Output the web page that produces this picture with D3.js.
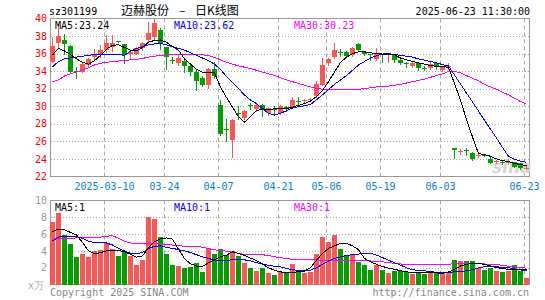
<!DOCTYPE html>
<html>
<head>
<meta charset="utf-8">
<script src="https://cdn.jsdelivr.net/npm/d3@7"></script>
<style>
  body { margin: 0; background: #fff; }
  svg { display: block; }
</style>
</head>
<body>
<svg id="chart" width="545" height="300"></svg>
<script>
// trading days shown in the chart
const dates = [
  '2025-02-25','2025-02-26','2025-02-27','2025-02-28','2025-03-03','2025-03-04','2025-03-05','2025-03-06','2025-03-07','2025-03-10',
  '2025-03-11','2025-03-12','2025-03-13','2025-03-14','2025-03-17','2025-03-18','2025-03-19','2025-03-20','2025-03-21','2025-03-24',
  '2025-03-25','2025-03-26','2025-03-27','2025-03-28','2025-03-31','2025-04-01','2025-04-02','2025-04-03','2025-04-07','2025-04-08',
  '2025-04-09','2025-04-10','2025-04-11','2025-04-14','2025-04-15','2025-04-16','2025-04-17','2025-04-18','2025-04-21','2025-04-22',
  '2025-04-23','2025-04-24','2025-04-25','2025-04-28','2025-04-29','2025-04-30','2025-05-06','2025-05-07','2025-05-08','2025-05-09',
  '2025-05-12','2025-05-13','2025-05-14','2025-05-15','2025-05-16','2025-05-19','2025-05-20','2025-05-21','2025-05-22','2025-05-23',
  '2025-05-26','2025-05-27','2025-05-28','2025-05-29','2025-05-30','2025-06-03','2025-06-04','2025-06-05','2025-06-06','2025-06-09',
  '2025-06-10','2025-06-11','2025-06-12','2025-06-13','2025-06-16','2025-06-17','2025-06-18','2025-06-19','2025-06-20','2025-06-23'
];

const open = [
  35.1,37.25,37.55,36.9,34.05,33.95,34.7,35.65,35.85,36.4,
  36.8,37.4,37.1,35.9,36.0,36.6,37.5,37.9,38.7,36.7,
  35.3,34.9,35.2,34.64,33.96,33.2,32.45,34.26,30.2,27.4,
  26.2,29.2,28.7,30.1,29.7,30.2,29.2,29.65,29.25,29.95,
  29.9,30.6,30.65,30.7,31.13,32.45,34.9,35.66,36.2,36.2,
  35.85,37.05,36.23,35.9,35.36,35.95,35.9,35.8,35.3,34.95,
  34.55,34.9,34.4,34.35,34.9,34.1,34.5,25.2,24.85,25.05,
  24.7,24.4,24.5,24.0,23.7,23.7,23.6,23.65,23.5,22.95
];
const high = [
  37.85,39.4,38.2,37.0,34.5,34.9,35.45,36.5,37.0,38.1,
  38.1,37.45,37.1,36.3,36.8,37.35,39.6,39.9,38.9,36.8,
  35.66,35.9,35.4,34.9,34.15,33.4,34.4,35.1,30.75,28.5,
  28.5,30.0,29.6,30.4,30.3,30.3,29.9,30.0,30.1,30.05,
  31.1,31.05,30.85,30.9,32.83,35.55,35.5,37.17,36.5,36.3,
  36.7,37.25,36.3,36.0,36.6,36.0,36.05,36.0,35.4,35.1,
  35.0,35.0,34.6,35.1,35.0,34.6,34.9,25.2,25.15,25.2,
  24.8,24.6,24.55,24.2,23.9,23.9,23.95,23.7,23.55,23.3
];
const low = [
  35.0,36.8,36.0,33.9,33.2,33.9,34.6,35.3,35.65,36.2,
  36.3,37.3,34.9,35.5,35.9,36.4,37.3,37.6,36.5,34.3,
  34.9,34.7,33.96,33.6,31.9,32.3,32.1,33.2,26.7,26.05,
  24.2,28.5,28.6,29.7,29.5,28.9,29.0,29.0,29.1,29.5,
  29.8,30.0,30.5,30.6,31.06,32.4,34.7,35.5,35.7,35.6,
  35.7,36.3,35.8,35.3,35.3,35.1,35.1,35.0,34.8,34.5,
  34.45,34.1,34.1,34.2,34.3,34.0,34.2,24.15,24.6,24.5,
  23.9,24.2,24.3,23.5,23.5,23.4,23.4,23.1,22.9,22.8
];
const close = [
  36.9,38.0,37.15,33.95,34.0,34.8,35.35,36.0,36.4,37.25,
  37.2,37.35,35.8,36.15,36.6,37.2,38.3,39.45,37.2,35.66,
  35.28,35.55,34.6,33.9,32.83,32.45,34.26,33.4,26.8,27.35,
  28.4,29.15,29.5,30.05,30.2,29.6,29.8,29.6,30.0,29.7,
  30.75,30.55,30.72,30.78,32.57,34.7,35.36,36.4,36.15,35.77,
  36.6,36.4,35.92,35.85,35.92,35.9,35.95,35.3,34.9,34.9,
  34.9,34.35,34.35,34.8,34.45,34.5,34.55,25.05,24.95,25.0,
  23.96,24.45,24.45,23.55,23.75,23.55,23.7,23.1,22.95,23.0
];

// volume, in 万
const volume = [
  7.4,8.46,5.94,4.86,3.22,3.66,3.22,3.94,4.14,4.94,
  4.26,3.34,3.82,3.34,2.34,2.94,8.02,7.74,5.62,3.66,
  2.34,2.26,2.02,2.14,2.54,1.54,4.34,3.66,4.26,3.46,
  3.94,3.34,2.54,1.94,1.62,2.02,1.34,1.14,1.46,1.34,
  2.46,1.54,1.42,1.54,3.66,5.66,5.02,5.94,4.26,3.46,
  3.5,2.62,2.34,1.74,2.34,1.74,1.42,1.62,1.62,1.54,
  1.26,1.46,1.26,1.46,1.34,1.34,1.46,2.94,2.74,2.82,
  2.82,1.94,1.74,1.94,1.62,1.54,1.62,2.34,1.62,0.82
];

// moving averages as drawn in the picture
const ma5 = [
  35.85,36.6,36.3,35.9,35.4,35.0,34.8,35.2,35.8,36.5,
  36.95,37.0,36.7,36.4,36.3,36.7,37.3,37.5,37.55,37.3,
  36.8,36.4,35.4,34.8,34.2,33.9,33.8,33.8,32.2,31.0,
  29.9,28.8,28.2,28.8,29.5,29.7,29.65,29.7,29.7,29.75,
  29.9,30.1,30.3,30.6,31.1,31.8,32.8,33.9,35.0,35.6,
  36.0,36.2,36.2,36.1,36.0,35.95,35.9,35.85,35.5,35.28,
  35.1,34.95,34.8,34.65,34.55,34.5,34.45,32.6,30.7,28.5,
  26.5,24.6,24.5,24.3,24.0,23.8,23.7,23.5,23.35,23.24
];
const ma10 = [
  34.5,35.1,35.4,35.5,35.6,35.7,35.8,35.9,35.95,35.95,
  35.95,35.9,35.8,36.3,36.6,36.8,37.0,37.1,37.15,37.0,
  36.8,36.6,36.4,36.1,35.8,35.5,35.2,34.8,34.2,33.4,
  32.7,32.0,31.3,30.7,30.3,29.7,29.2,29.0,29.2,29.5,
  29.8,29.95,30.05,30.2,30.75,31.3,31.9,32.5,33.0,33.5,
  34.1,34.7,35.1,35.5,35.75,35.95,36.0,35.9,35.8,35.7,
  35.6,35.4,35.25,35.1,34.95,34.75,34.6,33.57,32.54,31.5,
  30.5,29.45,28.4,27.4,26.4,25.3,24.3,23.95,23.75,23.62
];
const ma30 = [
  32.8,33.0,33.45,33.7,33.9,34.1,34.4,34.7,34.9,35.0,
  35.1,35.15,35.2,35.3,35.35,35.45,35.6,35.7,35.8,35.85,
  35.85,35.85,35.85,35.85,35.85,35.85,35.8,35.55,35.3,35.0,
  34.8,34.6,34.45,34.3,34.1,33.9,33.7,33.5,33.25,33.0,
  32.8,32.6,32.4,32.2,32.05,31.95,31.9,31.9,31.9,31.9,
  31.9,31.95,32.0,32.1,32.2,32.3,32.3,32.4,32.5,32.65,
  32.8,32.95,33.1,33.3,33.5,33.7,33.95,34.0,33.8,33.5,
  33.2,32.9,32.5,32.2,31.95,31.6,31.3,30.9,30.55,30.23
];
const volMa5 = [
  6.3,6.6,6.5,6.2,5.9,5.0,4.0,3.65,3.8,4.0,
  4.1,4.05,3.9,3.6,3.25,3.4,4.4,5.1,5.45,5.55,
  5.4,4.2,3.1,2.45,2.2,2.15,2.6,2.95,3.3,3.5,
  3.9,3.7,3.45,3.15,2.85,2.4,2.0,1.7,1.5,1.42,
  1.42,1.55,1.6,2.0,2.9,3.7,4.3,4.6,4.9,4.9,
  4.6,4.15,3.1,2.7,2.4,2.15,1.95,1.8,1.65,1.5,
  1.46,1.46,1.45,1.42,1.38,1.34,1.5,1.8,2.2,2.4,
  2.54,2.5,2.4,2.2,2.0,1.9,1.8,1.75,1.74,1.74
];
const volMa10 = [
  5.2,5.65,5.72,5.74,5.72,5.5,5.15,5.0,4.95,4.94,
  4.7,4.3,4.0,3.7,3.66,3.8,4.3,4.55,4.6,4.4,
  4.3,4.15,4.0,3.8,3.55,3.3,3.1,2.9,2.83,2.88,
  2.94,2.94,2.94,2.8,2.6,2.45,2.28,2.18,2.1,1.9,
  1.75,1.68,1.63,1.7,2.0,2.4,2.8,3.1,3.3,3.46,
  3.55,3.62,3.72,3.74,3.5,3.2,2.9,2.6,2.3,2.0,
  1.75,1.7,1.62,1.55,1.45,1.42,1.45,1.5,1.55,1.62,
  1.75,2.0,2.1,2.14,2.1,2.05,2.0,1.85,1.74,1.62
];
const volMa30 = [
  5.4,5.45,5.5,5.5,5.55,5.55,5.55,5.6,5.65,5.75,
  5.8,5.5,5.15,4.95,4.85,4.85,4.9,4.9,4.8,4.75,
  4.7,4.62,4.55,4.55,4.52,4.45,4.25,4.12,4.05,3.97,
  3.85,3.72,3.58,3.55,3.54,3.54,3.45,3.3,3.2,3.1,
  3.0,2.95,2.94,2.94,2.92,2.88,2.85,2.82,2.82,2.82,
  2.82,2.82,2.82,2.8,2.76,2.7,2.6,2.52,2.45,2.38,
  2.34,2.34,2.34,2.34,2.34,2.37,2.42,2.46,2.46,2.46,
  2.46,2.46,2.44,2.4,2.36,2.3,2.18,2.1,2.02,1.94
];

// axis ticks
const tickDates = ['2025-03-10','2025-03-24','2025-04-07','2025-04-21','2025-05-06','2025-05-19','2025-06-03','2025-06-23'];
const tickLabels = ['2025-03-10','03-24','04-07','04-21','05-06','05-19','06-03','06-23'];
const priceTicks = [22,24,26,28,30,32,34,36,38,40];
const volTicks = [2,4,6,8,10];

const svg = d3.select('#chart');
const mono = '"DejaVu Sans Mono", monospace';
const RED = '#ff5555', GREEN = '#00a000';

// scales
const x = d3.scaleBand().domain(dates).range([50, 529]).paddingInner(1 / 6).paddingOuter(0);
const yP = d3.scaleLinear().domain([22, 40]).range([176.5, 18.5]);
const yV = d3.scaleLinear().domain([0, 10]).range([284.5, 200.5]);
const bw = x.bandwidth();
const cx = d => x(d) + bw / 2;
const crisp = v => Math.round(v) + 0.5;

svg.append('rect').attr('width', 545).attr('height', 300).attr('fill', '#fff');

// ---- panels: borders + grid
function panel(y0, y1, ys) {
  const g = svg.append('g');
  g.selectAll('line.h').data(ys).join('line')
    .attr('x1', 51).attr('x2', 529)
    .attr('y1', d => crisp(d)).attr('y2', d => crisp(d))
    .attr('stroke', '#a8a8a8').attr('stroke-dasharray', '1,2');
  g.selectAll('line.v').data(tickDates).join('line')
    .attr('x1', d => x(d) + 0.5).attr('x2', d => x(d) + 0.5)
    .attr('y1', y0).attr('y2', y1)
    .attr('stroke', '#aaa').attr('stroke-dasharray', '4,3');
  g.append('rect')
    .attr('x', 50.5).attr('y', y0).attr('width', 479).attr('height', y1 - y0)
    .attr('fill', 'none').attr('stroke', '#999');
}
panel(18.5, 176.5, priceTicks.slice(1, -1).map(yP));
panel(200.5, 284.5, volTicks.slice(0, -1).map(yV));

// y labels
svg.append('g').selectAll('text').data(priceTicks).join('text')
  .attr('x', 47).attr('y', d => yP(d)).attr('dy', '0.36em')
  .attr('text-anchor', 'end').attr('font-family', mono).attr('font-size', 10)
  .attr('fill', '#ff0000').text(d => d);
svg.append('g').selectAll('text').data(volTicks).join('text')
  .attr('x', 47).attr('y', d => yV(d)).attr('dy', '0.36em')
  .attr('text-anchor', 'end').attr('font-family', mono).attr('font-size', 10)
  .attr('fill', '#999').text(d => d);
svg.append('text').attr('x', 28).attr('y', 288.5)
  .attr('font-family', mono).attr('font-size', 10).attr('fill', '#aaa').text('x万');

// date labels
svg.append('g').selectAll('text').data(tickDates).join('text')
  .attr('x', (d) => x(d) + 0.5).attr('y', 190)
  .attr('text-anchor', 'middle').attr('font-family', mono).attr('font-size', 10)
  .attr('fill', '#0a80d2').text((d, i) => tickLabels[i]);

// watermark
svg.append('text').attr('x', 492).attr('y', 173)
  .attr('font-family', 'DejaVu Sans').attr('font-style', 'italic').attr('font-weight', 'bold')
  .attr('font-size', 17).attr('fill', '#d6d6d6').text('sina');

// ---- candles
const candles = svg.append('g').attr('shape-rendering', 'crispEdges');
dates.forEach((d, i) => {
  const col = close[i] >= open[i] ? RED : GREEN;
  candles.append('line')
    .attr('x1', cx(d)).attr('x2', cx(d))
    .attr('y1', Math.round(yP(high[i]))).attr('y2', Math.round(yP(low[i])) + 1)
    .attr('stroke', col);
  const top = Math.round(yP(Math.max(open[i], close[i])));
  const bot = Math.round(yP(Math.min(open[i], close[i])));
  candles.append('rect')
    .attr('x', x(d)).attr('y', top).attr('width', bw).attr('height', Math.max(1, bot - top))
    .attr('fill', col);
});

// ---- volume bars
svg.append('g').attr('shape-rendering', 'crispEdges')
  .selectAll('rect').data(dates).join('rect')
  .attr('x', d => x(d)).attr('width', bw)
  .attr('y', (d, i) => Math.round(yV(volume[i])))
  .attr('height', (d, i) => yV(0) - Math.round(yV(volume[i])))
  .attr('fill', (d, i) => close[i] >= open[i] ? RED : GREEN);

// ---- moving average lines (1px, aliased like the original)
function maLine(values, y, color) {
  const line = d3.line().x((v, i) => cx(dates[i])).y(v => y(v));
  svg.append('path').attr('d', line(values))
    .attr('fill', 'none').attr('stroke', color).attr('stroke-width', 1)
    .attr('shape-rendering', 'crispEdges');
}
maLine(ma30, yP, '#ff00ff');
maLine(ma10, yP, '#0000ff');
maLine(ma5, yP, '#000');
maLine(volMa30, yV, '#ff00ff');
maLine(volMa10, yV, '#0000ff');
maLine(volMa5, yV, '#000');

// ---- texts
function label(txt, px, py, color, anchor) {
  svg.append('text').attr('x', px).attr('y', py)
    .attr('text-anchor', anchor || 'start')
    .attr('font-family', mono).attr('font-size', 10)
    .attr('fill', color).text(txt);
}
label('sz301199', 49, 14.5, '#000');
label('2025-06-23 11:30:00', 530, 14.5, '#000', 'end');
label('MA5:' + ma5[ma5.length - 1].toFixed(2), 55, 28.5, '#000');
label('MA10:' + ma10[ma10.length - 1].toFixed(2), 174, 28.5, '#0000ff');
label('MA30:' + ma30[ma30.length - 1].toFixed(2), 294, 28.5, '#ff00ff');
label('MA5:' + Math.floor(volMa5[volMa5.length - 1]), 55, 211, '#000');
label('MA10:' + Math.floor(volMa10[volMa10.length - 1]), 174, 211, '#0000ff');
label('MA30:' + Math.floor(volMa30[volMa30.length - 1]), 294, 211, '#ff00ff');
label('Copyright 2025 SINA.COM', 50, 296, '#888');
label('http://finance.sina.com.cn', 529, 296, '#888', 'end');

const title = svg.append('text').attr('y', 14.5)
  .attr('font-family', '"Noto Sans CJK SC", sans-serif').attr('font-size', 12).attr('fill', '#000');
title.append('tspan').attr('x', 121).text('迈赫股份');
title.append('tspan').attr('x', 179).text('–');
title.append('tspan').attr('x', 195).text('日K线图');
</script>
</body>
</html>
